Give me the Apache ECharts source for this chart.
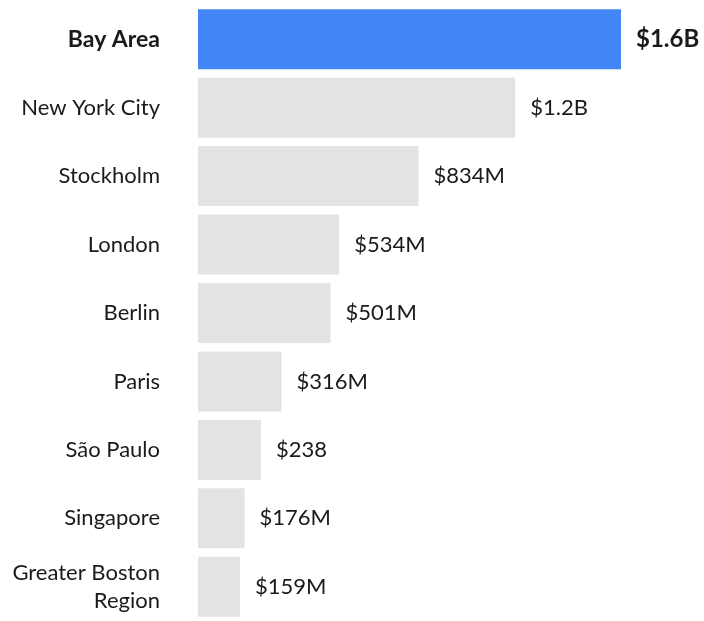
<!DOCTYPE html>
<html>
<head>
<meta charset="utf-8">
<title>Funding by region</title>
<script src="https://cdn.jsdelivr.net/npm/echarts@6/dist/echarts.min.js"></script>
<style>
  html, body { margin: 0; padding: 0; background: #ffffff; }
  #chart { width: 704px; height: 621px; }
</style>
</head>
<body>
<div id="chart"></div>
<script>
// Regions, top to bottom
const regions = ['Bay Area', 'New York City', 'Stockholm', 'London', 'Berlin', 'Paris', 'São Paulo', 'Singapore', 'Greater Boston\nRegion'];
// Funding in millions of USD
const fundingMillions = [1600, 1200, 834, 534, 501, 316, 238, 176, 159];
// Value labels shown at the end of each bar
const valueLabels = ['$1.6B', '$1.2B', '$834M', '$534M', '$501M', '$316M', '$238', '$176M', '$159M'];
const highlightRegion = 'Bay Area';

const FONT = 'Lato, "Noto Sans", sans-serif';
const TEXT = '#1a1a1a';
const BLUE = '#4285f4';
const GREY = '#e3e3e3';

const chart = echarts.init(document.getElementById('chart'), null, { renderer: 'canvas' });

chart.setOption({
  animation: false,
  grid: { left: 198, right: 83, top: 5, bottom: 0, containLabel: false },
  xAxis: {
    type: 'value',
    min: 0,
    max: 1600,
    show: false
  },
  yAxis: {
    type: 'category',
    inverse: true,
    data: regions.map(r => ({
      value: r,
      textStyle: r === highlightRegion ? { fontWeight: 'bold', fontSize: 23 } : {}
    })),
    axisLine: { show: false },
    axisTick: { show: false },
    axisLabel: {
      margin: 38,
      fontFamily: FONT,
      fontSize: 22,
      color: TEXT,
      align: 'right',
      lineHeight: 28,
      padding: [10, 0, 0, 0]
    }
  },
  series: [{
    type: 'bar',
    barWidth: 60,
    data: fundingMillions.map((v, i) => ({
      value: v,
      itemStyle: { color: regions[i] === highlightRegion ? BLUE : GREY },
      label: regions[i] === highlightRegion ? { fontWeight: 'bold', fontSize: 24 } : {}
    })),
    label: {
      show: true,
      position: 'right',
      distance: 15,
      fontFamily: FONT,
      fontSize: 22,
      color: TEXT,
      formatter: p => valueLabels[p.dataIndex]
    }
  }]
});
</script>
</body>
</html>
